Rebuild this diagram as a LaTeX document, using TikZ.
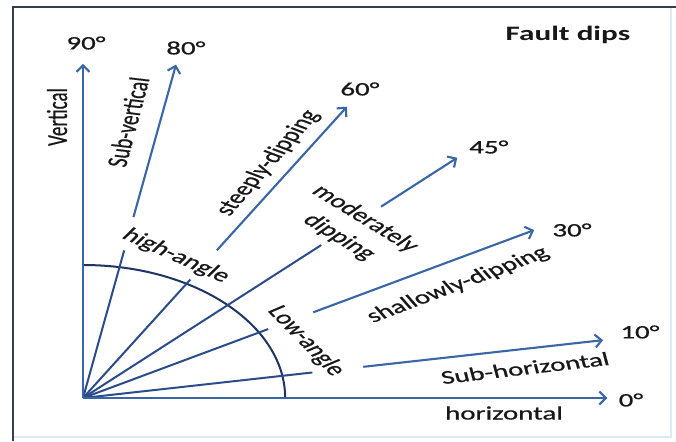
\documentclass[tikz,border=0pt]{standalone}
\usepackage{fontspec}
\setmainfont{Carlito}
\newfontfamily\lblfont[FakeBold=0.6]{Carlito}
\usetikzlibrary{arrows.meta}
\definecolor{arrblue}{RGB}{58,102,168}
\definecolor{innblue}{RGB}{42,76,138}
\definecolor{arcnavy}{RGB}{30,52,100}
\definecolor{framec}{RGB}{52,62,78}
\definecolor{faintc}{RGB}{222,234,246}
\definecolor{txt}{RGB}{24,24,24}
\begin{document}
\begin{tikzpicture}[x=1pt,y=1pt,
  outerln/.style={draw=arrblue, line width=2.1pt, -{Straight Barb[length=6.5pt,width=13pt]}},
  fullln/.style={draw=arrblue, line width=2.1pt, -{Straight Barb[length=6.5pt,width=13pt]}},
  innerln/.style={draw=innblue, line width=2pt},
  arcln/.style={draw=arcnavy, line width=2pt},
  lbl/.style={text=txt, font=\lblfont\fontsize{19}{25}\selectfont, inner sep=0pt, align=center},
  ttl/.style={text=txt, font=\fontsize{20.5}{24}\selectfont\bfseries, inner sep=0pt}
]
\useasboundingbox (0,0) rectangle (676,441);
\fill[white] (0,0) rectangle (676,441);
\draw[faintc, line width=1.5pt] (13,4) -- (671,4) -- (671,434);
\draw[framec, line width=2.4pt] (13,0) -- (13,434) -- (676,434);
\begin{scope}[shift={(83,43)}, xscale=1.52, transform shape]
  \coordinate (O) at (0,0);
  % tips
  \coordinate (t90) at (90:334);
  \coordinate (t80) at (79.6:339);
  \coordinate (t60) at (59.2:339);
  \coordinate (t45) at (44.3:344);
  \coordinate (t30) at (29.5:341);
  \coordinate (t10) at (9.6:347);
  \coordinate (t0) at (0:345);
  % gaps
  \coordinate (g80a) at (79.6:150);  \coordinate (g80b) at (79.6:184);
  \coordinate (g60a) at (59.2:138);  \coordinate (g60b) at (59.2:172);
  \coordinate (g45a) at (44.3:219);  \coordinate (g45b) at (44.3:274);
  \coordinate (g30a) at (29.5:140);  \coordinate (g30b) at (29.5:174);
  \coordinate (g10a) at (9.6:153);   \coordinate (g10b) at (9.6:187);
  % arc
  \draw[arcln] (133,0) arc[start angle=0, end angle=90, radius=133];
  % inner segments
  \draw[innerln] (O) -- (g80a);
  \draw[innerln] (O) -- (g60a);
  \draw[innerln] (O) -- (g45a);
  \draw[innerln] (O) -- (g30a);
  \draw[innerln] (O) -- (g10a);
  % outer arrows
  \draw[outerln] (g80b) -- (t80);
  \draw[outerln] (g60b) -- (t60);
  \draw[outerln] (g45b) -- (t45);
  \draw[outerln] (g30b) -- (t30);
  \draw[outerln] (g10b) -- (t10);
  \draw[fullln] (O) -- (t90);
  \draw[fullln] (O) -- (t0);
  % degree labels
  \node[lbl] (d90) at (2,355) {90°};
  \node[lbl] (d80) at (67.7,350) {80°};
  \node[lbl] (d60) at (182.2,309) {60°};
  \node[lbl] (d45) at (267,251) {45°};
  \node[lbl] (d30) at (321.7,168) {30°};
  \node[lbl] (d10) at (366.4,66) {10°};
  \node[lbl] (d0) at (360.5,-2) {0°};
  % title
  \node[ttl] (title) at (319,363) {Fault dips};
  % class labels
  \node[lbl, rotate=90] (lvert) at (-17.1,281) {Vertical};
  \node[lbl, rotate=80] (lsubv) at (29.6,276) {Sub-vertical};
  \node[lbl, rotate=60] (lsteep) at (121.7,235) {steeply-dipping};
  \node[lbl, rotate=-34] (lhigh) at (61.2,142) {high-angle};
  \node[lbl, rotate=-43] (lmod) at (177,170) {moderately\\dipping};
  \node[lbl, rotate=-57] (llow) at (146.7,57) {Low-angle};
  \node[lbl, rotate=30] (lshal) at (246.7,113) {shallowly-dipping};
  \node[lbl, rotate=10] (lsubh) at (290.8,30) {Sub-horizontal};
  \node[lbl] (lhor) at (277,-15) {horizontal};
\end{scope}
\end{tikzpicture}
\end{document}
